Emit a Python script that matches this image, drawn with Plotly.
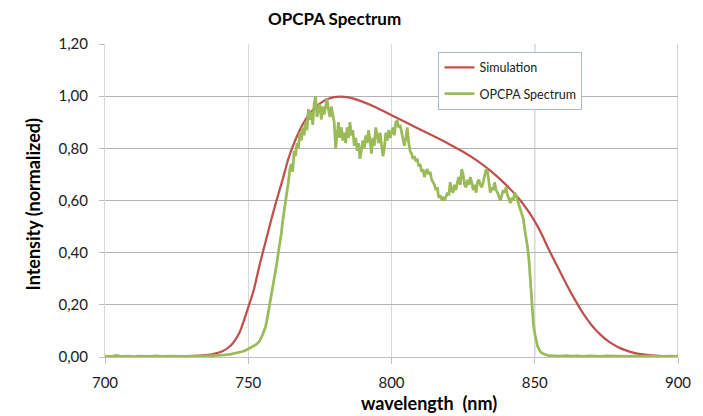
import plotly.graph_objects as go

# ---------------- data ----------------
sim_wl = [713, 720, 725, 730, 735, 738, 741, 744, 747, 750, 752, 754, 756, 758, 760,
          762, 764, 766, 768, 770, 772, 774, 776, 778, 780, 782, 785, 790, 795, 800,
          805, 810, 815, 820, 825, 830, 835, 840, 845, 848, 850, 852, 855, 858, 861,
          864, 867, 870, 873, 876, 880, 885, 890, 895, 900]
sim_int = [0.000, 0.001, 0.002, 0.003, 0.007, 0.012, 0.022, 0.045, 0.095, 0.19, 0.26, 0.355, 0.44, 0.525, 0.605,
           0.68, 0.76, 0.82, 0.87, 0.91, 0.94, 0.963, 0.979, 0.99, 0.996, 0.998, 0.995, 0.978, 0.955, 0.927,
           0.90, 0.872, 0.845, 0.817, 0.787, 0.752, 0.71, 0.66, 0.60, 0.555, 0.52, 0.48, 0.41, 0.345, 0.28,
           0.22, 0.165, 0.12, 0.085, 0.058, 0.033, 0.015, 0.007, 0.003, 0.001]

opcpa_wl = [700, 702, 704, 706, 708, 710, 712, 714, 716, 718, 720, 722, 724, 726, 728, 730, 732, 734, 736, 738,
            740, 742, 744, 746, 748, 749, 750, 751, 752, 753, 754, 755, 755.5,
            756.0, 756.5, 757.0, 757.5, 758.0, 758.5, 759.0, 759.5, 760.0, 760.5, 761.0, 761.5, 762.0, 762.5,
            763.0, 763.5, 764.0, 764.5, 765.0, 765.5, 766.0, 766.5, 767.0, 767.5, 768.0, 768.5, 769.0, 769.5,
            770.0, 770.5, 771.0, 771.5, 772.0, 772.5, 773.0, 773.5, 774.0, 774.5, 775.0, 775.5, 776.0, 776.5,
            777.0, 777.5, 778.0, 778.5, 779.0, 779.5, 780.0, 780.5, 781.0, 781.5, 782.0, 782.5, 783.0, 783.5,
            784.0, 784.5, 785.0, 785.5, 786.0, 786.5, 787.0, 787.5, 788.0, 788.5, 789.0, 789.5, 790.0, 790.5,
            791.0, 791.5, 792.0, 792.5, 793.0, 793.5, 794.0, 794.5, 795.0, 795.5, 796.0, 796.5, 797.0, 797.5,
            798.0, 798.5, 799.0, 799.5, 800.0, 800.5, 801.0, 801.5, 802.0, 802.5, 803.0, 803.5, 804.0, 804.5,
            805.0, 805.5, 806.0, 806.5, 807.0, 807.5, 808.0, 808.5, 809.0, 809.5, 810.0, 810.5, 811.0, 811.5,
            812.0, 812.5, 813.0, 813.5, 814.0, 814.5, 815.0, 815.5, 816.0, 816.5, 817.0, 817.5, 818.0, 818.5,
            819.0, 819.5, 820.0, 820.5, 821.0, 821.5, 822.0, 822.5, 823.0, 823.5, 824.0, 824.5, 825.0, 825.5,
            826.0, 826.5, 827.0, 827.5, 828.0, 828.5, 829.0, 829.5, 830.0, 830.5, 831.0, 831.5, 832.0, 832.5,
            833.0, 833.5, 834.0, 834.5, 835.0, 835.5, 836.0, 836.5, 837.0, 837.5, 838.0, 838.5, 839.0, 839.5,
            840.0, 840.5, 841.0, 841.5, 842.0, 842.5, 843.0, 843.5, 844.0, 844.5, 845.0, 845.5, 846.0, 846.5,
            847.0, 847.5, 848.0, 848.5, 849.0, 849.5, 850.0, 850.5, 851.0, 851.5, 852.0, 853, 854, 855,
            857, 859, 861, 863, 865, 867, 869, 871, 873, 875, 877, 879, 881, 883, 885, 887, 889, 891, 893,
            895, 897, 899, 900]
opcpa_int = [0.003, 0.002, 0.006, 0.002, 0.003, 0.001, 0.003, 0.002, 0.002, 0.004, 0.002, 0.003, 0.002, 0.003,
             0.002, 0.003, 0.002, 0.003, 0.004, 0.005,
             0.006, 0.008, 0.011, 0.015, 0.021, 0.025, 0.030, 0.036, 0.043, 0.050, 0.062, 0.085, 0.100,
             0.115, 0.14, 0.17, 0.20, 0.235, 0.27, 0.29, 0.33, 0.36, 0.40, 0.43, 0.47, 0.52, 0.555,
             0.60, 0.64, 0.67, 0.72, 0.74, 0.71, 0.79, 0.77, 0.82, 0.80, 0.86, 0.83, 0.88, 0.85,
             0.90, 0.87, 0.95, 0.91, 0.94, 0.89, 0.97, 1.00, 0.92, 0.95, 0.97, 0.91, 0.96, 0.93,
             0.97, 0.99, 0.95, 0.92, 0.96, 0.93, 0.90, 0.80, 0.86, 0.90, 0.84, 0.88, 0.83, 0.86,
             0.82, 0.88, 0.84, 0.90, 0.85, 0.87, 0.81, 0.84, 0.79, 0.82, 0.76, 0.79, 0.83, 0.80,
             0.85, 0.82, 0.87, 0.83, 0.78, 0.84, 0.81, 0.88, 0.84, 0.82, 0.86, 0.80, 0.77, 0.80,
             0.86, 0.83, 0.87, 0.84, 0.86, 0.88, 0.85, 0.90, 0.905, 0.88, 0.89, 0.86, 0.83, 0.81,
             0.84, 0.88, 0.82, 0.79, 0.78, 0.76, 0.77, 0.75, 0.76, 0.73, 0.74, 0.71, 0.72, 0.69,
             0.71, 0.72, 0.70, 0.71, 0.68, 0.67, 0.66, 0.64, 0.65, 0.61, 0.62, 0.605, 0.61, 0.60,
             0.615, 0.63, 0.62, 0.67, 0.64, 0.63, 0.66, 0.64, 0.67, 0.69, 0.66, 0.72, 0.70, 0.66,
             0.65, 0.68, 0.66, 0.69, 0.67, 0.64, 0.66, 0.63, 0.67, 0.68, 0.66, 0.65, 0.67, 0.69,
             0.72, 0.71, 0.66, 0.63, 0.65, 0.64, 0.67, 0.64, 0.63, 0.61, 0.60, 0.62, 0.64, 0.63,
             0.65, 0.62, 0.60, 0.59, 0.61, 0.60, 0.63, 0.62, 0.60, 0.58, 0.57, 0.55, 0.53, 0.49,
             0.46, 0.42, 0.37, 0.28, 0.19, 0.13, 0.09, 0.06, 0.04, 0.03, 0.02, 0.012, 0.007, 0.005,
             0.004, 0.003, 0.005, 0.003, 0.004, 0.002, 0.004, 0.003, 0.002, 0.004, 0.003, 0.002, 0.003,
             0.002, 0.004, 0.002, 0.003, 0.002, 0.003,
             0.002, 0.003, 0.002, 0.002]

x_ticks = [700, 750, 800, 850, 900]
y_ticks = [0.0, 0.2, 0.4, 0.6, 0.8, 1.0, 1.2]
y_ticktext = ["0,00", "0,20", "0,40", "0,60", "0,80", "1,00", "1,20"]
dark_vlines = [850, 900]

FONT = "Lato, 'Open Sans', sans-serif"

fig = go.Figure()
fig.add_trace(go.Scatter(x=sim_wl, y=sim_int, mode="lines", name="Simulation",
                         line=dict(color="#c0504d", width=2.25, shape="spline", smoothing=0.6),
                         legendgroup="a"))
fig.add_trace(go.Scatter(x=opcpa_wl, y=opcpa_int, mode="lines", name="OPCPA Spectrum",
                         line=dict(color="#9bbb59", width=2.75),
                         legendgroup="b"))

for xv in dark_vlines:
    fig.add_shape(type="line", xref="x", yref="paper", x0=xv, x1=xv, y0=0, y1=1,
                  line=dict(color="#a6a6a6", width=1), layer="below")

# The page body adds an 8px margin, so the figure is sized/offset to compensate.
fig.update_layout(
    width=695, height=408,
    margin=dict(l=97, r=21, t=36, b=59),
    paper_bgcolor="white", plot_bgcolor="white",
    font=dict(family=FONT, size=14, color="#404040"),
    showlegend=True,
    legend=dict(x=0.582, y=0.975, xanchor="left", yanchor="top",
                bgcolor="white", bordercolor="#a7b9d3", borderwidth=1,
                font=dict(family=FONT, size=12.5, color="#202020"),
                itemwidth=30, tracegroupgap=7),
    xaxis=dict(range=[700, 900], tickvals=x_ticks, showgrid=True, gridcolor="#d9d9d9", gridwidth=1,
               showline=True, linecolor="#bfbfbf", linewidth=1,
               ticks="outside", ticklen=6, tickcolor="#bfbfbf",
               tickfont=dict(family=FONT, size=15, color="#202020"), ticklabelstandoff=6,
               zeroline=False),
    yaxis=dict(range=[0, 1.2], tickvals=y_ticks, ticktext=y_ticktext, showgrid=True,
               gridcolor="#b3b3b3", gridwidth=1,
               showline=True, linecolor="#d9d9d9", linewidth=1,
               ticks="outside", ticklen=5, tickcolor="#bfbfbf",
               tickfont=dict(family=FONT, size=15, color="#202020"), ticklabelstandoff=8,
               zeroline=False),
    annotations=[
        dict(text="<b>OPCPA Spectrum</b>", xref="paper", yref="paper", x=(336 - 105) / 577,
             y=1 + (44 - 18) / 313, xanchor="center", yanchor="middle", showarrow=False,
             font=dict(family=FONT, size=17, color="#000000")),
        dict(text="<b>wavelength&nbsp;&nbsp;(nm)</b>", xref="paper", yref="paper",
             x=(431 - 105) / 577, y=-(403 - 357) / 313, xanchor="center", yanchor="middle",
             showarrow=False, font=dict(family=FONT, size=18, color="#000000")),
        dict(text="<b>Intensity (normalized)</b>", xref="paper", yref="paper",
             x=-(105 - 32) / 577, y=(357 - 205) / 313, xanchor="center", yanchor="middle",
             textangle=-90, showarrow=False, font=dict(family=FONT, size=18, color="#000000")),
    ],
)

fig.write_html("out.html")
